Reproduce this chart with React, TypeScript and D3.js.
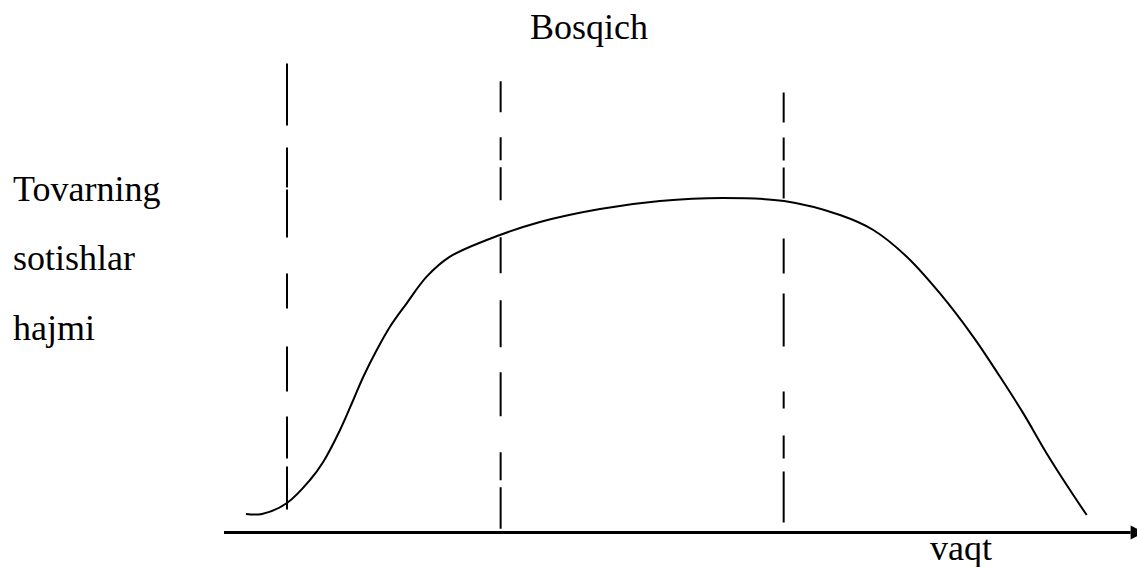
import React, { useEffect, useRef } from 'react';
import * as d3 from 'd3';

// time (0..100 along the axis) and sales volume (0..100)
const curveTime = [2.41, 4.16, 6.9, 9.42, 10.88, 12.71, 14.16, 15.26, 16.73, 18.18, 20.01, 22.2, 24.75, 28.77, 34.61, 41.18, 47.75, 54.65, 61.34, 67.47, 71.12, 74.78, 78.42, 82.07, 85.0, 87.55, 90.11, 92.66, 94.49];
const curveVolume = [5.29, 5.29, 8.43, 15.0, 20.23, 29.29, 37.86, 44.51, 52.14, 58.8, 65.49, 73.09, 78.8, 83.57, 88.71, 92.43, 94.71, 95.57, 94.71, 90.71, 86.43, 78.8, 68.31, 55.91, 44.49, 34.03, 22.6, 12.14, 5.0];

// stage boundaries
const stageTime = [6.9, 30.3, 61.3];
const stageTop = [134, 128.9, 125.7];
const stageBottom = [6.3, 1.1, 2.6];
const stageDashes = [
  '62 22 40 2 48 36 35 38 45 25 42 8 43',
  '31 25 23 7 33 37 36 27 47 25 44 36 28 7 42',
  '30 15 23 7 31 40 35 20 53 45 17 27 23 13 51',
];

const yLabelLines = ['Tovarning', 'sotishlar', 'hajmi'];
const titleText = 'Bosqich';
const xLabel = 'vaqt';

const width = 1137;
const height = 567;

export default function App() {
  const ref = useRef<SVGSVGElement>(null);

  useEffect(() => {
    const svg = d3.select(ref.current);
    svg.selectAll('*').remove();

    const x = d3.scaleLinear().domain([0, 100]).range([224, 1137]);
    const y = d3.scaleLinear().domain([0, 100]).range([532.5, 182.5]);

    const font = '"Liberation Serif"';

    // title
    svg.append('text')
      .attr('x', 530).attr('y', 39)
      .style('font-family', font).style('font-size', '36px')
      .text(titleText);

    // y label
    svg.selectAll('text.ylab')
      .data(yLabelLines)
      .enter()
      .append('text')
      .attr('class', 'ylab')
      .attr('x', 13)
      .attr('y', (_, i) => [200.5, 270, 340][i])
      .style('font-family', font).style('font-size', '36px')
      .text((d) => d);

    // x label
    svg.append('text')
      .attr('x', 930).attr('y', 560)
      .style('font-family', font).style('font-size', '36px')
      .text(xLabel);

    // stage lines
    stageTime.forEach((t, i) => {
      svg.append('line')
        .attr('x1', x(t)).attr('x2', x(t))
        .attr('y1', y(stageTop[i])).attr('y2', y(stageBottom[i]))
        .attr('stroke', '#000')
        .attr('stroke-width', 2)
        .attr('stroke-dasharray', stageDashes[i]);
    });

    // sales curve
    const pts: [number, number][] = curveTime.map((t, i) => [t, curveVolume[i]]);
    const line = d3.line<[number, number]>()
      .x((d) => x(d[0]))
      .y((d) => y(d[1]))
      .curve(d3.curveCatmullRom.alpha(0.5));
    svg.append('path')
      .attr('d', line(pts))
      .attr('fill', 'none')
      .attr('stroke', '#000')
      .attr('stroke-width', 2);

    // time axis with arrow
    svg.append('line')
      .attr('x1', x(0)).attr('x2', x(99.3))
      .attr('y1', y(0)).attr('y2', y(0))
      .attr('stroke', '#000')
      .attr('stroke-width', 3);
    svg.append('path')
      .attr('d', `M${x(99.3)},${y(0) - 7}L${x(100) + 7},${y(0)}L${x(99.3)},${y(0) + 7}Z`)
      .attr('fill', '#000');
  }, []);

  return (
    <svg
      ref={ref}
      width={width}
      height={height}
      style={{ position: 'absolute', left: 0, top: 0, background: '#fff' }}
    />
  );
}
